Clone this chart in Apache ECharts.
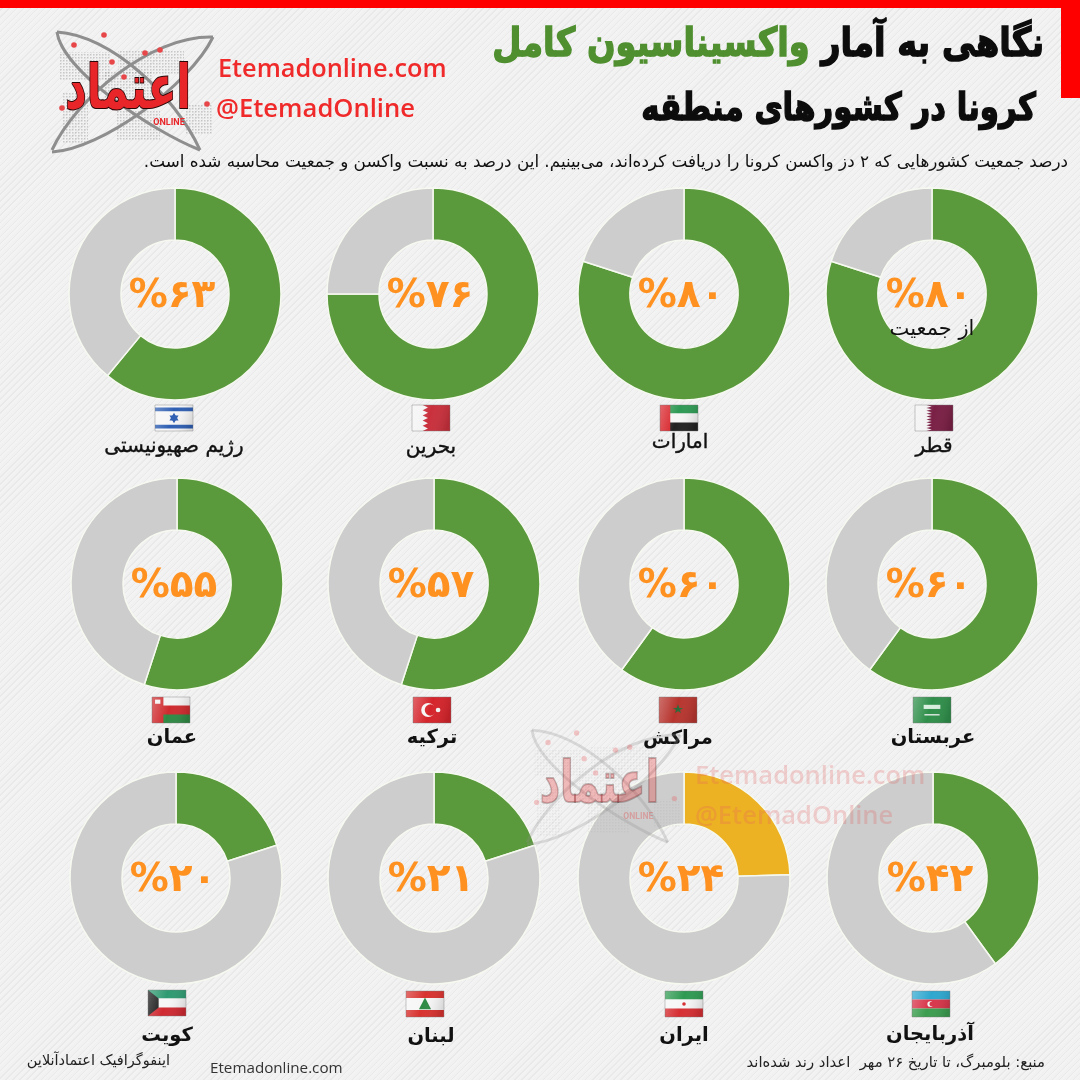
<!DOCTYPE html>
<html>
<head>
<meta charset="utf-8">
<style>
html, body { margin: 0; padding: 0; width: 1080px; height: 1080px; overflow: hidden;
  background: repeating-linear-gradient(135deg, #f1f1f1 0, #f1f1f1 2px, #e9e9e9 2px, #e9e9e9 3px, #f3f3f3 3px, #f3f3f3 5px); }
#chart { width: 1080px; height: 1080px; }
</style>
<script src="https://cdn.jsdelivr.net/npm/echarts@6/dist/echarts.min.js"></script>
</head>
<body>
<div id="chart"></div>
<script>
var countries = ['قطر', 'امارات', 'بحرین', 'رژیم صهیونیستی', 'عربستان', 'مراکش', 'ترکیه', 'عمان', 'آذربایجان', 'ایران', 'لبنان', 'کویت'];
// printed on each ring
var percentLabels = ['%۸۰', '%۸۰', '%۷۶', '%۶۳', '%۶۰', '%۶۰', '%۵۷', '%۵۵', '%۴۲', '%۲۴', '%۲۱', '%۲۰'];
// share of each ring as it is actually drawn in the picture
var drawnShare = [80, 80, 75, 61, 60, 60, 55, 55, 40, 24.5, 20, 20];
var flagKeys = ['qa', 'ae', 'bh', 'il', 'sa', 'ma', 'tr', 'om', 'az', 'ir', 'lb', 'kw'];

// layout, one entry per country
var pieX = [932, 684, 433, 175, 932, 684, 434, 177, 933, 684, 434, 176];
var pieY = [294, 294, 294, 294, 584, 584, 584, 584, 878, 878, 878, 878];
var flagX = [934, 679, 431, 174, 932, 678, 432, 171, 931, 684, 425, 167];
var flagTop = [405, 405, 405, 405, 697, 697, 697, 697, 991, 991, 991, 990];
var nameX = [934, 680, 431, 174, 933, 678, 432, 172, 930, 684, 431, 167];
var nameY = [447, 443, 448, 447, 738, 739, 738, 738, 1035, 1036, 1037, 1036];

var GREEN = '#5b9a3c', GREY = '#cdcdcd', YELLOW = '#ecb224', ORANGE = '#ff9120', RED = '#f02a2a';
var FONT = '"DejaVu Sans"';

var series = countries.map(function (name, i) {
    return {
        type: 'pie',
        silent: true,
        center: [pieX[i], pieY[i]],
        radius: [54, 106],
        startAngle: 90,
        labelLine: { show: false },
        itemStyle: { borderColor: '#f6f9f0', borderWidth: 1.5 },
        data: [
            {
                value: drawnShare[i],
                itemStyle: { color: name === 'ایران' ? YELLOW : GREEN },
                label: {
                    show: true, position: 'center', formatter: percentLabels[i], offset: [-3, 3],
                    color: ORANGE, fontFamily: FONT, fontWeight: 'bold', fontSize: 39
                }
            },
            { value: 100 - drawnShare[i], itemStyle: { color: GREY }, label: { show: false } }
        ]
    };
});

function txt(x, y, text, size, color, align, weight, extra) {
    var style = { x: x, y: y, text: text, fill: color, fontFamily: FONT, fontSize: size,
        fontWeight: weight || 'normal', align: align || 'center', verticalAlign: 'middle' };
    for (var k in extra) style[k] = extra[k];
    return { type: 'text', z: 20, silent: true, style: style };
}

// heavy title text, squeezed horizontally towards the right anchor
function heavyTitle(x, y, scale, text, size, color, extra) {
    var el = txt(0, 0, text, size, color, 'right', 'bold', extra);
    el.x = x; el.y = y; el.scaleX = scale;
    return el;
}

// flags: shapes use a 0-1 box
function r(x, y, w, h, c) { return ['rect', x, y, w, h, c]; }
function p(pts, c) { return ['poly', pts, c]; }
function c(x, y, rad, col) { return ['circle', x, y, rad, col]; }
function zigzag(x0, x1, n, col) {
    var pts = [[1, 0], [x0, 0]];
    for (var i = 0; i < n; i++) {
        pts.push([x1, (i + 0.5) / n]);
        pts.push([x0, (i + 1) / n]);
    }
    pts.push([1, 1]);
    return p(pts, col);
}
var flagShapes = {
    qa: [r(0, 0, 1, 1, '#f2f2f2'), zigzag(0.3, 0.44, 9, '#7a1f45')],
    ae: [r(0, 0, 1, 0.33, '#2f9a55'), r(0, 0.33, 1, 0.34, '#f6f6f6'), r(0, 0.67, 1, 0.33, '#222'), r(0, 0, 0.27, 1, '#d8262c')],
    bh: [r(0, 0, 1, 1, '#f4f4f4'), zigzag(0.28, 0.42, 5, '#c9303c')],
    il: [r(0, 0, 1, 1, '#f6f6f6'), r(0, 0.1, 1, 0.14, '#2f5fb3'), r(0, 0.76, 1, 0.14, '#2f5fb3'),
        p([[0.5, 0.3], [0.62, 0.6], [0.38, 0.6]], '#2f5fb3'), p([[0.5, 0.7], [0.62, 0.4], [0.38, 0.4]], '#2f5fb3')],
    sa: [r(0, 0, 1, 1, '#2f8f4a'), r(0.28, 0.3, 0.44, 0.16, '#d8eedd'), r(0.3, 0.66, 0.4, 0.05, '#f2f2f2')],
    ma: [r(0, 0, 1, 1, '#b8352f'), p([[0.5, 0.28], [0.58, 0.62], [0.36, 0.42], [0.64, 0.42], [0.42, 0.62]], '#2c6a3a')],
    tr: [r(0, 0, 1, 1, '#d5242b'), c(0.4, 0.5, 0.27, '#f6f6f6'), c(0.46, 0.5, 0.22, '#d5242b'), c(0.66, 0.5, 0.09, '#f6f6f6')],
    om: [r(0, 0, 1, 1, '#cf2b2f'), r(0, 0, 1, 0.33, '#f3f3f3'), r(0, 0.67, 1, 0.33, '#2f8a45'), r(0, 0, 0.3, 1, '#cf2b2f'), r(0.08, 0.1, 0.14, 0.16, '#f3f3f3')],
    az: [r(0, 0, 1, 0.33, '#2ea7cf'), r(0, 0.33, 1, 0.34, '#d8354a'), r(0, 0.67, 1, 0.33, '#3b9d4f'), c(0.48, 0.5, 0.11, '#f4f4f4'), c(0.52, 0.5, 0.09, '#d8354a')],
    ir: [r(0, 0, 1, 0.33, '#2f9a52'), r(0, 0.33, 1, 0.34, '#f6f6f6'), r(0, 0.67, 1, 0.33, '#d62f33'), c(0.5, 0.5, 0.07, '#d62f33')],
    lb: [r(0, 0, 1, 0.27, '#d8322f'), r(0, 0.27, 1, 0.46, '#f6f6f6'), r(0, 0.73, 1, 0.27, '#d8322f'), p([[0.5, 0.25], [0.66, 0.7], [0.34, 0.7]], '#2f8a45')],
    kw: [r(0, 0, 1, 0.33, '#2f9a72'), r(0, 0.33, 1, 0.34, '#f6f6f6'), r(0, 0.67, 1, 0.33, '#d02a32'), p([[0, 0], [0.28, 0.33], [0.28, 0.67], [0, 1]], '#1c1c1c')]
};

function flag(key, cx, top) {
    var w = 38, h = 26, x0 = cx - w / 2;
    var els = flagShapes[key].map(function (s) {
        if (s[0] === 'rect') return { type: 'rect', z: 15, silent: true, shape: { x: x0 + s[1] * w, y: top + s[2] * h, width: s[3] * w, height: s[4] * h }, style: { fill: s[5] } };
        if (s[0] === 'circle') return { type: 'circle', z: 15, silent: true, shape: { cx: x0 + s[1] * w, cy: top + s[2] * h, r: s[3] * h }, style: { fill: s[4] } };
        return { type: 'polygon', z: 15, silent: true, shape: { points: s[1].map(function (q) { return [x0 + q[0] * w, top + q[1] * h]; }) }, style: { fill: s[2] } };
    });
    // shading on the flag icons
    els.push({ type: 'rect', z: 16, silent: true, shape: { x: x0, y: top, width: w, height: h }, style: {
        stroke: 'rgba(120,120,120,0.4)', lineWidth: 1,
        fill: { type: 'linear', x: 0, y: 0, x2: 1, y2: 0.4, colorStops: [
            { offset: 0, color: 'rgba(255,255,255,0.3)' }, { offset: 0.5, color: 'rgba(255,255,255,0)' }, { offset: 1, color: 'rgba(0,0,0,0.12)' }] } } });
    return els;
}

// dotted map pattern for the logo
function dotPattern() {
    var cv = document.createElement('canvas');
    cv.width = 3; cv.height = 3;
    var g = cv.getContext('2d');
    g.fillStyle = '#8a8a8a';
    g.fillRect(0, 0, 1.5, 1.5);
    return cv;
}

function logo(dx, dy, o, s) {
    function X(v) { return dx + (v - 55) * s; }
    function Y(v) { return dy + (v - 35) * s; }
    var z = 25, els = [];
    var pat = dotPattern();
    [[60, 52, 50, 28], [105, 72, 48, 36], [118, 50, 66, 24], [62, 92, 26, 52], [116, 110, 44, 30], [185, 105, 28, 30]].forEach(function (b) {
        els.push({ type: 'rect', z: z, silent: true, shape: { x: X(b[0]), y: Y(b[1]), width: b[2] * s, height: b[3] * s },
            style: { fill: { image: pat, repeat: 'repeat' }, opacity: o * 0.4 } });
    });
    [[57, 32, 110, 35, 175, 95, 200, 150], [57, 32, 62, 70, 150, 130, 200, 150], [213, 37, 150, 35, 75, 100, 52, 150], [52, 152, 100, 150, 190, 85, 213, 37]].forEach(function (b) {
        els.push({ type: 'bezierCurve', z: z, silent: true,
            shape: { x1: X(b[0]), y1: Y(b[1]), cpx1: X(b[2]), cpy1: Y(b[3]), cpx2: X(b[4]), cpy2: Y(b[5]), x2: X(b[6]), y2: Y(b[7]) },
            style: { stroke: '#8e8e8e', lineWidth: 3 * s, fill: 'none', opacity: o } });
    });
    [[74, 45], [104, 35], [112, 62], [145, 53], [160, 50], [124, 77], [62, 108], [207, 104]].forEach(function (q) {
        els.push({ type: 'circle', z: z, silent: true, shape: { cx: X(q[0]), cy: Y(q[1]), r: 2.8 * s }, style: { fill: '#e8474a', opacity: o } });
    });
    els.push({ type: 'text', z: z + 1, silent: true, x: X(128), y: Y(92), scaleY: 1.45, style: { x: 0, y: 0, text: 'اعتماد', fill: '#e8262a', stroke: '#2a0808', lineWidth: 1.4 * s,
        fontFamily: FONT, fontWeight: 'bold', fontSize: 42 * s, align: 'center', verticalAlign: 'middle', opacity: o } });
    els.push({ type: 'text', z: z + 1, silent: true, style: { x: X(169), y: Y(123), text: 'ONLINE', fill: '#e8262a', fontFamily: 'Roboto', fontWeight: 'bold', fontSize: 9 * s, align: 'center', verticalAlign: 'middle', opacity: o } });
    return els;
}

var graphics = [
    { type: 'rect', z: 30, silent: true, shape: { x: 0, y: 0, width: 1080, height: 8 }, style: { fill: '#ff0000' } },
    { type: 'rect', z: 30, silent: true, shape: { x: 1061, y: 0, width: 19, height: 98 }, style: { fill: '#ff0000' } }
];

var runBase = { fontFamily: FONT, fontWeight: 'bold', fontSize: 40, lineWidth: 1.5, textShadowColor: '#ffffff', textShadowOffsetX: -1, textShadowOffsetY: 3 };
function run(color) {
    var o = { fill: color, stroke: color };
    for (var k in runBase) o[k] = runBase[k];
    return o;
}
// first line is laid out left to right, green run then black run
graphics.push(heavyTitle(1044, 46, 0.84, '{g|واکسیناسیون کامل} {k|نگاهی به آمار}', 40, '#111', { rich: { g: run('#4f8f2f'), k: run('#0c0c0c') } }));
graphics.push(heavyTitle(1036, 110, 0.81, 'کرونا در کشورهای منطقه', 38, '#0c0c0c', {
    stroke: '#0c0c0c', lineWidth: 1.5, textShadowColor: '#ffffff', textShadowOffsetX: -1, textShadowOffsetY: 3 }));
graphics.push(txt(1068, 163, 'درصد جمعیت کشورهایی که ۲ دز واکسن کرونا را دریافت کرده‌اند، می‌بینیم. این درصد به نسبت واکسن و جمعیت محاسبه شده است.\u200f', 16.8, '#111', 'right', 'normal'));
graphics.push(txt(218, 70, 'Etemadonline.com', 25.3, RED, 'left', '600', { fontFamily: '"Open Sans"' }));
graphics.push(txt(216, 110, '@EtemadOnline', 25.6, RED, 'left', '600', { fontFamily: '"Open Sans"' }));
graphics.push(txt(932, 330, 'از جمعیت', 21, '#111', 'center', 'normal'));
graphics.push(txt(1045, 1063, 'منبع: بلومبرگ، تا تاریخ ۲۶ مهر  اعداد رند شده‌اند', 14.8, '#222', 'right', 'normal'));
graphics.push(txt(170, 1061, 'اینفوگرافیک اعتمادآنلاین', 14.5, '#222', 'right', 'normal'));
graphics.push(txt(210, 1069, 'Etemadonline.com', 15.2, '#333', 'left', 'normal', { fontFamily: '"Open Sans"' }));

countries.forEach(function (name, i) {
    graphics.push(txt(nameX[i], nameY[i], name, i > 3 ? 19.5 : 20, '#111', 'center', i > 3 ? 'bold' : 'normal', i > 3 ? {} : { stroke: '#111', lineWidth: 0.4 }));
    graphics = graphics.concat(flag(flagKeys[i], flagX[i], flagTop[i]));
});

graphics = graphics.concat(logo(55, 35, 1, 1));
// faded watermark over the lower rings
graphics = graphics.concat(logo(530, 733, 0.28, 0.95));
graphics.push(txt(695, 777, 'Etemadonline.com', 25.5, 'rgba(232,90,90,0.25)', 'left', '600', { fontFamily: '"Open Sans"' }));
graphics.push(txt(695, 817, '@EtemadOnline', 25.5, 'rgba(232,90,90,0.25)', 'left', '600', { fontFamily: '"Open Sans"' }));

var chart = echarts.init(document.getElementById('chart'));
chart.setOption({
    animation: false,
    backgroundColor: 'transparent',
    series: series,
    graphic: { elements: graphics }
});
</script>
</body>
</html>
